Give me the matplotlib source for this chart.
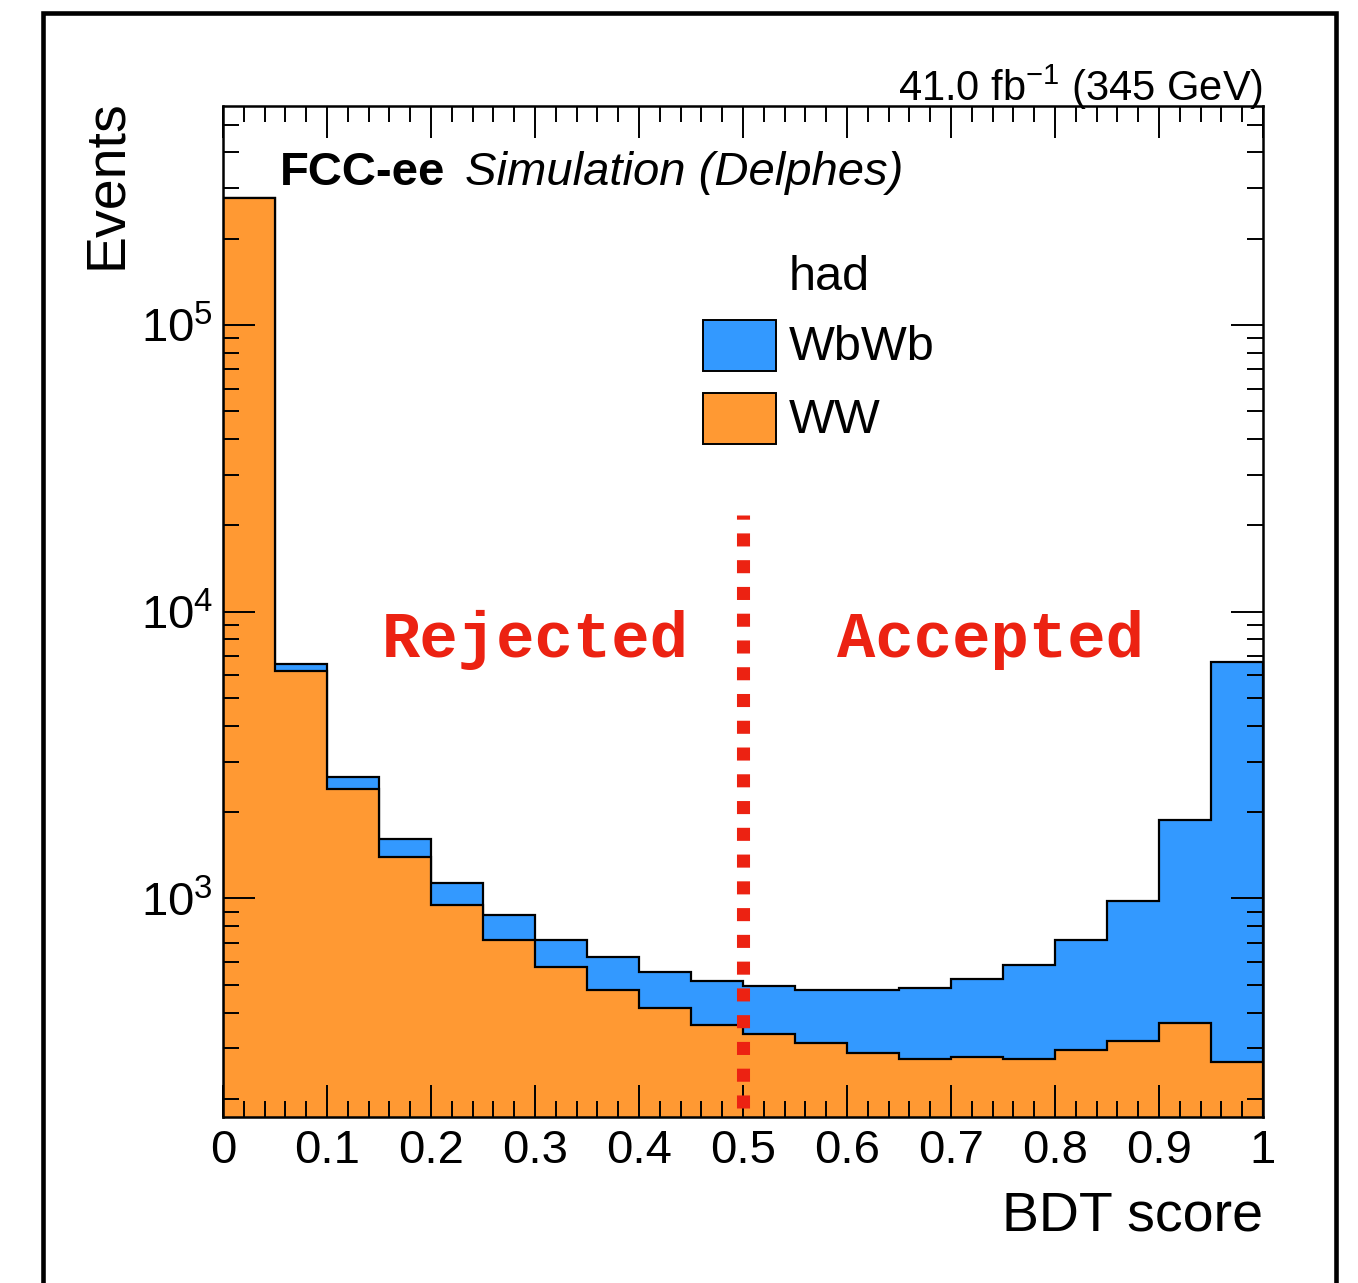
import matplotlib
matplotlib.use("Agg")
import matplotlib.pyplot as plt
import numpy as np
from matplotlib.patches import Rectangle
from matplotlib.ticker import LogLocator, MultipleLocator, NullFormatter, FixedLocator

plt.rcParams['font.family'] = ['Liberation Sans', 'DejaVu Sans']
plt.rcParams['mathtext.fontset'] = 'custom'
plt.rcParams['mathtext.rm'] = 'Liberation Sans'
plt.rcParams['mathtext.it'] = 'Liberation Sans:italic'

# BDT score bins (20 bins of 0.05)
bin_edges = np.linspace(0.0, 1.0, 21)

# events per bin
ww = np.array([276700, 6213, 2413, 1391, 946, 714, 575, 479, 414, 362,
               337, 312, 290, 275, 279, 275, 296, 317, 368, 269])
total = np.array([277000, 6570, 2658, 1612, 1132, 875, 714, 626, 554, 515,
                  495, 480, 480, 486, 525, 584, 716, 982, 1877, 6677])
wbwb = total - ww

x_ticks = [0, 0.1, 0.2, 0.3, 0.4, 0.5, 0.6, 0.7, 0.8, 0.9, 1]
x_ticklabels = ['0', '0.1', '0.2', '0.3', '0.4', '0.5', '0.6', '0.7', '0.8', '0.9', '1']
y_range = (173.2, 580700)

cut_value = 0.5
cut_span = (186, 21700)

blue = '#3399ff'
orange = '#ff9933'
red = '#ec2212'

fig = plt.figure(figsize=(13.58, 12.83), dpi=100)
ax = fig.add_axes([0.1642, 0.1296, 0.7658, 0.7878])

# stacked: total (WbWb on top) first, WW in front; ticks stay on top
ax.stairs(total, bin_edges, baseline=1, fill=True, facecolor=blue,
          edgecolor='black', linewidth=1.6, zorder=1)
ax.stairs(ww, bin_edges, baseline=1, fill=True, facecolor=orange,
          edgecolor='black', linewidth=1.6, zorder=1.2)

ax.set_yscale('log')
ax.set_xlim(0, 1)
ax.set_ylim(*y_range)

ax.xaxis.set_major_locator(FixedLocator(x_ticks))
ax.set_xticklabels(x_ticklabels)
ax.xaxis.set_minor_locator(MultipleLocator(0.02))
ax.yaxis.set_major_locator(LogLocator(base=10, numticks=10))
ax.yaxis.set_minor_locator(LogLocator(base=10, subs=np.arange(2, 10), numticks=20))
ax.yaxis.set_minor_formatter(NullFormatter())

ax.tick_params(which='both', direction='in', top=True, right=True, width=1.4,
               labelsize=34, colors='black')
ax.tick_params(which='major', length=23)
ax.tick_params(which='minor', length=11.5)
ax.tick_params(axis='x', which='major', pad=9)
ax.tick_params(axis='y', which='major', pad=7)
for sp in ax.spines.values():
    sp.set_linewidth(1.8)
    sp.set_zorder(10)

ax.set_xlabel('BDT score', fontsize=40, loc='right')
ax.xaxis.set_label_coords(1.0, -0.073)
ax.set_ylabel('Events', fontsize=40, loc='top')
ax.yaxis.set_label_coords(-0.087, 1.007)

# cut line
ax.plot([cut_value, cut_value], cut_span, color=red, linewidth=9.4,
        linestyle=(0, (1, 1.05)), dash_capstyle='butt', zorder=6)

ax.text(0.300, 0.455, 'Rejected', transform=ax.transAxes, ha='center',
        va='baseline', fontsize=46, color=red, fontweight='bold',
        family='Liberation Mono', zorder=7)
ax.text(0.7385, 0.455, 'Accepted', transform=ax.transAxes, ha='center',
        va='baseline', fontsize=46, color=red, fontweight='bold',
        family='Liberation Mono', zorder=7)

# labels
ax.text(0.0548, 0.9218, 'FCC-ee', transform=ax.transAxes, ha='left',
        va='baseline', fontsize=34, fontweight='bold')
ax.text(0.2327, 0.9218, 'Simulation (Delphes)', transform=ax.transAxes,
        ha='left', va='baseline', fontsize=34, style='italic')
ax.text(1.0, 1.0049, r'41.0 fb$^{-1}$ (345 GeV)', transform=ax.transAxes,
        ha='right', va='baseline', fontsize=30)

# legend
ax.text(0.5442, 0.8180, 'had', transform=ax.transAxes, ha='left',
        va='baseline', fontsize=35)
ax.add_patch(Rectangle((0.4615, 0.7378), 0.0702, 0.0505, transform=ax.transAxes,
                       facecolor=blue, edgecolor='black', linewidth=1.4, zorder=8))
ax.text(0.5442, 0.7487, 'WbWb', transform=ax.transAxes, ha='left',
        va='baseline', fontsize=35)
ax.add_patch(Rectangle((0.4615, 0.6656), 0.0702, 0.0505, transform=ax.transAxes,
                       facecolor=orange, edgecolor='black', linewidth=1.4, zorder=8))
ax.text(0.5442, 0.6765, 'WW', transform=ax.transAxes, ha='left',
        va='baseline', fontsize=35)

# outer frame
fig.add_artist(Rectangle((0.0317, -0.05), 0.9521, 1.0399, transform=fig.transFigure,
                         fill=False, edgecolor='black', linewidth=3.3, clip_on=False))

fig.savefig('out.png', dpi=100)
